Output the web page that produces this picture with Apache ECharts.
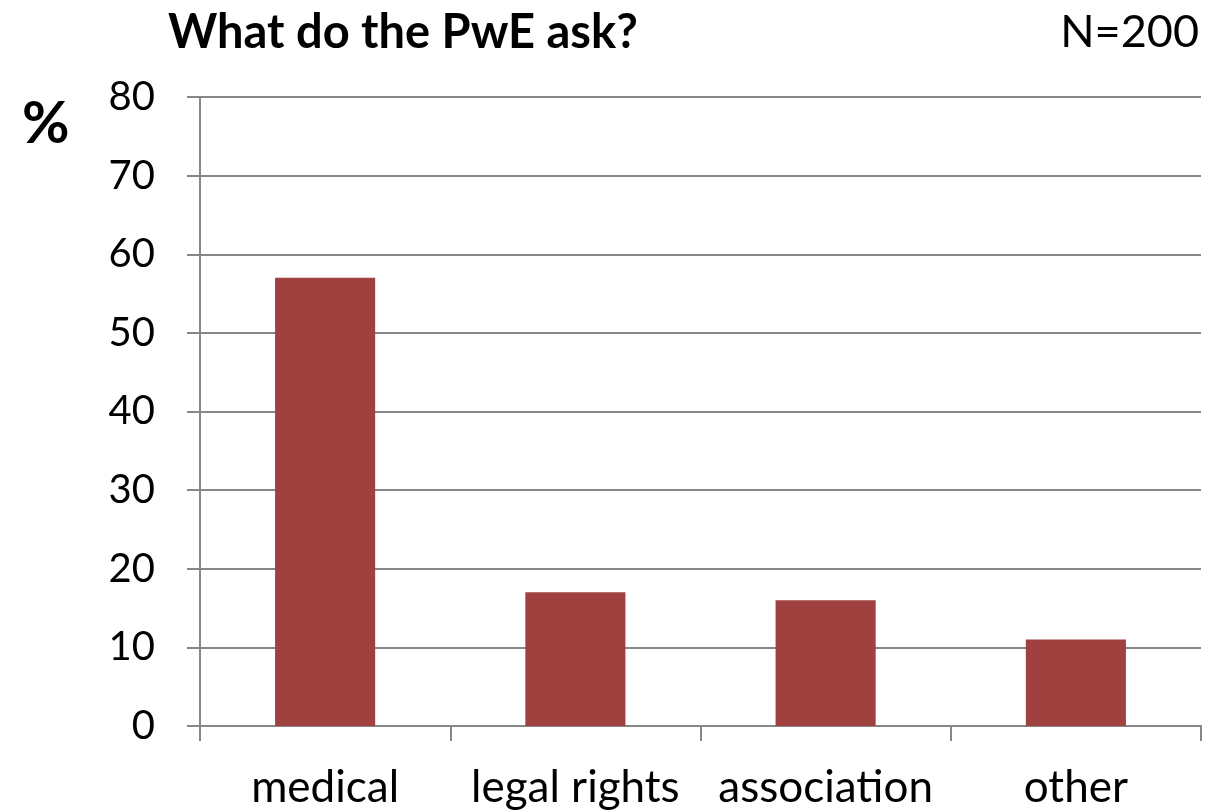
<!DOCTYPE html>
<html>
<head>
<meta charset="utf-8">
<script src="https://cdn.jsdelivr.net/npm/echarts@6/dist/echarts.min.js"></script>
<style>
  html, body { margin: 0; padding: 0; background: #fff; }
  #chart { width: 1214px; height: 812px; }
</style>
</head>
<body>
<div id="chart"></div>
<script>
// data
const categories = ["medical", "legal rights", "association", "other"];
const percentValues = [57, 17, 16, 11];
const yTicks = [0, 10, 20, 30, 40, 50, 60, 70, 80];

const FONT = "Lato";
const axisGray = "#868686";

const myChart = echarts.init(document.getElementById("chart"));
const option = {
  backgroundColor: "#fff",
  animation: false,
  title: [
    {
      text: "What do the PwE ask?",
      left: 163,
      top: 4,
      textStyle: { fontFamily: FONT, fontSize: 47, fontWeight: "bold", color: "#000" },
    },
    {
      text: "N=200",
      right: 10,
      top: 5,
      textStyle: { fontFamily: FONT, fontSize: 45, fontWeight: "normal", color: "#000" },
    },
    {
      text: "%",
      left: 17,
      top: 90,
      textStyle: { fontFamily: FONT, fontSize: 58, fontWeight: "bold", color: "#000" },
    },
  ],
  grid: { left: 200, right: 13, top: 97, bottom: 86 },
  xAxis: {
    type: "category",
    data: categories,
    axisLine: { lineStyle: { color: axisGray, width: 2 } },
    axisTick: { show: true, length: 15, lineStyle: { color: axisGray, width: 2 } },
    axisLabel: { fontFamily: FONT, fontSize: 44, color: "#000", margin: 40, interval: 0 },
  },
  yAxis: {
    type: "value",
    min: yTicks[0],
    max: yTicks[yTicks.length - 1],
    interval: 10,
    axisLine: { show: true, lineStyle: { color: axisGray, width: 2 } },
    axisTick: { show: true, length: 13, lineStyle: { color: axisGray, width: 2 } },
    splitLine: { lineStyle: { color: axisGray, width: 2 } },
    axisLabel: { fontFamily: FONT, fontSize: 40, color: "#000", margin: 45 },
  },
  series: [
    {
      type: "bar",
      data: percentValues,
      barWidth: "40%",
      itemStyle: { color: "#9E413F" },
    },
  ],
};
myChart.setOption(option);
</script>
</body>
</html>
